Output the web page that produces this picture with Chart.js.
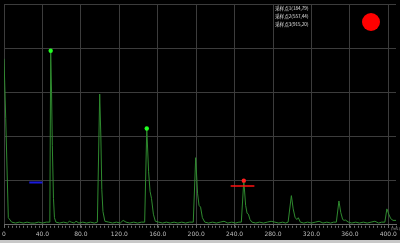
<!DOCTYPE html>
<html><head><meta charset="utf-8">
<script src="https://cdn.jsdelivr.net/npm/chart.js@4/dist/chart.umd.min.js"></script>
<style>
html,body{margin:0;padding:0;background:#000;overflow:hidden;}
#wrap{position:relative;width:400px;height:243px;}
#strip{position:absolute;left:0;top:240px;width:400px;height:3px;background:#c8c8c8;}
#led{position:absolute;left:362px;top:13px;width:18px;height:18px;border-radius:50%;background:#ff0000;}
#info{position:absolute;left:275px;top:4px;color:#e0e0e0;font:4.6px "Noto Sans CJK SC",sans-serif;line-height:8px;white-space:nowrap;}
</style></head>
<body>
<div id="wrap"><canvas id="c" width="400" height="243"></canvas>
<div id="info">采样点1(184,79)<br>采样点2(557,44)<br>采样点3(915,20)</div>
<div id="led"></div>
<div id="strip"></div></div>
<script>
// signal samples (x position, amplitude)
const sigX = [0, 1.8, 4.5, 8, 12, 16, 20, 24, 28, 32, 36, 40, 44, 47.7, 48.6, 49.5, 50.3, 51.5, 52.5, 54, 58, 62, 66, 68, 70, 73, 75, 78, 82, 86, 90, 94, 97.2, 99.6, 100.8, 101.8, 103, 105, 109, 113, 117, 121, 124, 127, 131, 135, 139, 143, 146.4, 148.6, 150.5, 152, 153.5, 155.5, 157.5, 161, 165, 169, 173, 177, 181, 185, 189, 193, 197, 199.5, 201.5, 203, 204.6, 206.5, 209, 213, 217, 221, 225, 229, 233, 237, 241, 244.5, 247, 249.6, 251.5, 253, 254.4, 256, 258, 262, 266, 270, 274, 278, 282, 286, 290, 293, 295.7, 299.1, 301, 303, 305, 306.3, 308.5, 312, 316, 320, 324, 328, 332, 336, 340, 343, 345.9, 348.6, 350.5, 352.5, 354, 355.2, 358.6, 362, 366, 370, 374, 378, 382, 386, 390, 393, 396.4, 398.5, 400.5, 402.5, 404.9, 408];
const sigY = [188, 120, 8, 3, 2, 3, 2, 3, 2, 2, 3, 2, 3, 3, 197, 150, 90, 30, 8, 3, 2, 3, 2, 4, 3, 2, 4, 2, 3, 2, 3, 2, 3, 148, 100, 40, 15, 4, 3, 2, 3, 2, 5, 3, 2, 3, 2, 3, 3, 109, 60, 38, 30, 12, 4, 3, 2, 3, 2, 3, 2, 3, 2, 3, 3, 76, 35, 22, 20, 8, 3, 2, 3, 2, 3, 4, 2, 3, 2, 3, 3, 50, 22, 13, 12, 6, 3, 2, 3, 2, 3, 4, 3, 2, 3, 2, 3, 33, 18, 8, 6, 8, 3, 2, 3, 2, 3, 4, 2, 3, 2, 3, 3, 27, 14, 6, 5, 5.5, 3, 2, 3, 2, 3, 2, 3, 4, 2, 3, 3, 18, 12, 7, 5, 5, 4];
// marked sample points
const greenMarkX = [48.6, 148.6];
const greenMarkY = [197, 109];
const redMarkX = [249.6];
const redMarkY = [50];
// cursor segments
const blueLineX = [26.3, 40.0];
const blueLineY = [48, 48];
const redLineX = [235.9, 260.6];
const redLineY = [44, 44];
// axes
const xMin = 0, xMax = 408, xStep = 40, minorStep = 4;
const yMin = 0, yMax = 250, yStep = 50;

const pts = (xs, ys) => xs.map((x, i) => ({x, y: ys[i]}));

const minorTicks = {
  id: 'minorTicks',
  afterDraw(chart) {
    const xs = chart.scales.x, ctx = chart.ctx, b = chart.chartArea.bottom;
    ctx.save();
    ctx.strokeStyle = '#6a6a6a';
    ctx.lineWidth = 1;
    for (let v = 0; v <= xMax; v += minorStep) {
      const p = Math.round(xs.getPixelForValue(v)) + 0.5;
      ctx.beginPath(); ctx.moveTo(p, b + 1); ctx.lineTo(p, b + 3); ctx.stroke();
    }
    ctx.fillStyle = '#9a9a9a';
    ctx.font = '4px "DejaVu Sans"';
    ctx.textAlign = 'right';
    ctx.fillText('(ms)', 400, b + 5);
    ctx.restore();
  }
};

new Chart(document.getElementById('c'), {
  type: 'scatter',
  data: {
    datasets: [
      {data: pts(sigX, sigY), showLine: true, borderColor: '#2f8a2f', borderWidth: 1, pointRadius: 0, tension: 0, order: 3},
      {data: pts(blueLineX, blueLineY), showLine: true, borderColor: '#1a1adf', borderWidth: 2, pointRadius: 0, order: 2},
      {data: pts(redLineX, redLineY), showLine: true, borderColor: '#ff1010', borderWidth: 1.5, pointRadius: 0, order: 2},
      {data: pts(greenMarkX, greenMarkY), showLine: false, backgroundColor: '#22ff22', borderWidth: 0, pointRadius: 2.2, order: 1},
      {data: pts(redMarkX, redMarkY), showLine: false, backgroundColor: '#ff2020', borderWidth: 0, pointRadius: 2.2, order: 1}
    ]
  },
  options: {
    responsive: false, animation: false,
    layout: {padding: {left: 2, right: 2, top: 0, bottom: 2}},
    plugins: {legend: {display: false}, tooltip: {enabled: false}},
    scales: {
      x: {
        type: 'linear', min: xMin, max: xMax,
        afterBuildTicks: s => { s.ticks = s.ticks.filter(t => t.value % xStep === 0); },
        afterFit: s => { s.paddingLeft = 0; },
        ticks: {stepSize: xStep, includeBounds: false, color: '#bdbdbd', font: {size: 6, family: 'DejaVu Sans'}, padding: 3, maxRotation: 0, autoSkip: false,
          callback: v => v === 0 ? '0' : v.toFixed(1)},
        grid: {color: '#3c3c3c', lineWidth: 1, tickLength: 3, tickColor: '#6a6a6a'},
        border: {color: '#6a6a6a'}
      },
      y: {
        min: yMin, max: yMax,
        afterFit: s => { s.width = 0; },
        ticks: {stepSize: yStep, display: false},
        grid: {color: '#3c3c3c', lineWidth: 1, drawTicks: false},
        border: {display: false}
      }
    }
  },
  plugins: [minorTicks]
});
</script>
</body></html>
